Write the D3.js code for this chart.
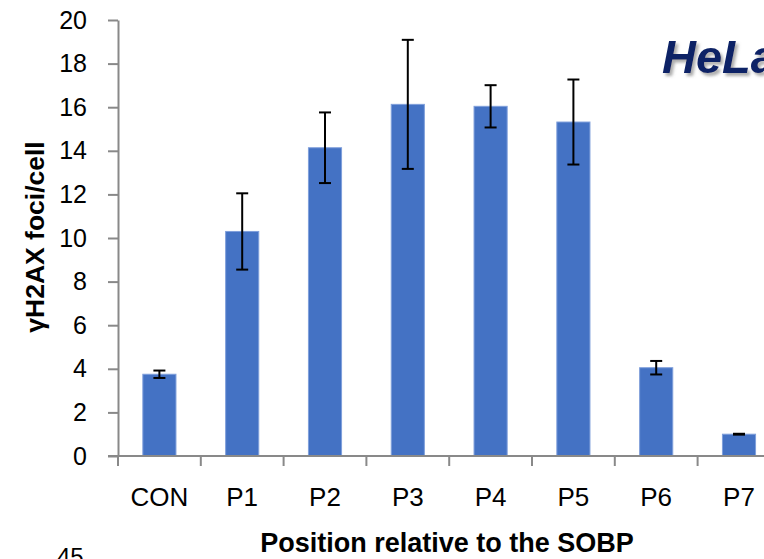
<!DOCTYPE html>
<html>
<head>
<meta charset="utf-8">
<script src="https://cdn.jsdelivr.net/npm/d3@7"></script>
<style>
  html, body { margin: 0; padding: 0; background: #fff; }
  svg { display: block; }
  text { font-family: "Liberation Sans", Arial, sans-serif; }
</style>
</head>
<body>
<div id="chart"></div>
<script>
const categories = ["CON", "P1", "P2", "P3", "P4", "P5", "P6", "P7"];
const foci = [3.75, 10.3, 14.14, 16.13, 16.04, 15.32, 4.05, 1.0];
const errors = [0.17, 1.75, 1.62, 2.96, 0.97, 1.95, 0.31, 0.02];
const yTicks = [0, 2, 4, 6, 8, 10, 12, 14, 16, 18, 20];

const width = 764;
const height = 559;
const axisColor = "#898989";

const svg = d3.select("#chart").append("svg")
  .attr("width", width)
  .attr("height", height);

// shadow for the cell line label
const defs = svg.append("defs");
defs.append("filter")
  .attr("id", "shadow")
  .attr("x", "-10%").attr("y", "-20%")
  .attr("width", "130%").attr("height", "160%")
  .append("feDropShadow")
  .attr("dx", 2.5).attr("dy", 3)
  .attr("stdDeviation", 1.6)
  .attr("flood-color", "#666")
  .attr("flood-opacity", 0.55);

const x = d3.scaleBand()
  .domain(categories)
  .range([118, 780.4])
  .paddingInner(0.6)
  .paddingOuter(0.3);

const y = d3.scaleLinear()
  .domain([0, 20])
  .range([456, 20]);

// bars
svg.append("g")
  .selectAll("rect")
  .data(categories)
  .join("rect")
  .attr("x", d => x(d))
  .attr("y", (d, i) => y(foci[i]))
  .attr("width", x.bandwidth())
  .attr("height", (d, i) => y(0) - y(foci[i]))
  .attr("fill", "#4472C4")
  .attr("stroke", "#7f9fdb")
  .attr("stroke-width", 1);

// y axis
const yAxis = svg.append("g")
  .attr("transform", `translate(${x.range()[0]},0)`)
  .call(d3.axisLeft(y).tickValues(yTicks).tickSize(10).tickSizeOuter(0).tickPadding(21));
yAxis.select(".domain").attr("stroke", axisColor).attr("stroke-width", 2);
yAxis.selectAll(".tick line").attr("stroke", axisColor).attr("stroke-width", 2);
yAxis.selectAll(".tick text")
  .attr("fill", "#000")
  .style("font-size", "25px")
  .style("font-family", "'Liberation Sans', Arial, sans-serif");

// x axis: line plus ticks at category boundaries
const gap = x.step() - x.bandwidth();
const boundaries = categories.map(c => x(c) - gap / 2);
boundaries.push(x(categories[categories.length - 1]) + x.bandwidth() + gap / 2);

const xAxis = svg.append("g")
  .attr("transform", `translate(0,${y(0)})`);
xAxis.append("line")
  .attr("x1", x.range()[0] - 10)
  .attr("x2", width)
  .attr("stroke", axisColor)
  .attr("stroke-width", 2);
xAxis.selectAll("line.tick")
  .data(boundaries)
  .join("line")
  .attr("class", "tick")
  .attr("x1", d => d).attr("x2", d => d)
  .attr("y1", 0).attr("y2", 10)
  .attr("stroke", axisColor)
  .attr("stroke-width", 2);
xAxis.selectAll("text")
  .data(categories)
  .join("text")
  .attr("x", d => x(d) + x.bandwidth() / 2)
  .attr("y", 50)
  .attr("text-anchor", "middle")
  .style("font-size", "26px")
  .text(d => d);

// error bars
const err = svg.append("g")
  .attr("stroke", "#000")
  .attr("stroke-width", 2)
  .selectAll("g")
  .data(categories)
  .join("g")
  .attr("transform", d => `translate(${x(d) + x.bandwidth() / 2},0)`);
err.append("line")
  .attr("y1", (d, i) => y(foci[i] + errors[i]))
  .attr("y2", (d, i) => y(foci[i] - errors[i]));
err.append("line")
  .attr("x1", -6).attr("x2", 6)
  .attr("y1", (d, i) => y(foci[i] + errors[i]))
  .attr("y2", (d, i) => y(foci[i] + errors[i]));
err.append("line")
  .attr("x1", -6).attr("x2", 6)
  .attr("y1", (d, i) => y(foci[i] - errors[i]))
  .attr("y2", (d, i) => y(foci[i] - errors[i]));

// axis titles
svg.append("text")
  .attr("transform", "translate(44,237) rotate(-90)")
  .attr("text-anchor", "middle")
  .style("font-size", "26.5px")
  .style("font-weight", "bold")
  .text("γH2AX foci/cell");

svg.append("text")
  .attr("x", 447)
  .attr("y", 552)
  .attr("text-anchor", "middle")
  .style("font-size", "27px")
  .style("font-weight", "bold")
  .text("Position relative to the SOBP");

// cell line label
svg.append("text")
  .attr("x", 662)
  .attr("y", 73)
  .attr("fill", "#0b2266")
  .attr("filter", "url(#shadow)")
  .style("font-size", "47px")
  .style("font-weight", "bold")
  .style("font-style", "italic")
  .text("HeLa");

// top of the next panel's axis label, cut by the frame
svg.append("text")
  .attr("x", 57)
  .attr("y", 565)
  .style("font-size", "24px")
  .text("45");
</script>
</body>
</html>
